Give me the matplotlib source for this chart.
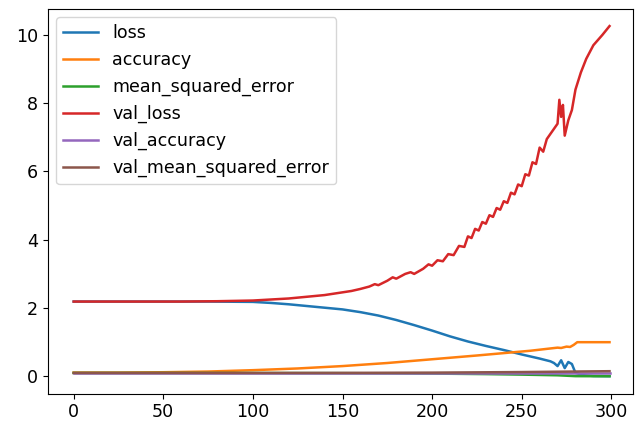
import matplotlib

matplotlib.use("Agg")
import matplotlib.pyplot as plt

# --- valores (epocas, metricas) ---
loss_ep = [0, 25, 50, 75, 100, 110, 120, 130, 140, 150, 160, 170, 180, 190,
           200, 210, 220, 230, 240, 250, 260, 266, 268, 270, 272, 274, 276,
           278, 280, 285, 290, 299]
loss = [2.19, 2.19, 2.19, 2.19, 2.18, 2.15, 2.11, 2.06, 2.01, 1.96, 1.88,
        1.78, 1.65, 1.50, 1.34, 1.17, 1.02, 0.89, 0.77, 0.64, 0.52, 0.44,
        0.39, 0.30, 0.47, 0.24, 0.42, 0.36, 0.10, 0.03, 0.01, 0.005]

acc_ep = [0, 25, 50, 75, 100, 125, 150, 175, 200, 225, 240, 255, 265, 270,
          272, 275, 277, 279, 281, 290, 299]
accuracy = [0.11, 0.11, 0.12, 0.14, 0.18, 0.23, 0.30, 0.39, 0.50, 0.61, 0.68,
            0.75, 0.81, 0.84, 0.83, 0.87, 0.86, 0.92, 1.00, 1.00, 1.00]

mse_ep = [0, 50, 100, 150, 200, 230, 250, 270, 280, 290, 299]
mse = [0.099, 0.099, 0.097, 0.093, 0.080, 0.065, 0.050, 0.030, 0.005, 0.003,
       0.002]

vloss_ep = [0, 20, 40, 60, 80, 100, 110, 120, 130, 140, 150, 155, 160, 165,
            168, 170, 175, 178, 180, 185, 188, 190, 195, 198, 200, 203, 206,
            209, 212, 215, 218, 220, 222, 224, 226, 228, 230, 232, 234, 236,
            238, 240, 242, 244, 246, 248, 250, 252, 254, 256, 258, 260, 262,
            264, 266, 268, 270, 271, 272, 273, 274, 276, 278, 280, 283, 286,
            290, 295, 299]
val_loss = [2.19, 2.19, 2.19, 2.19, 2.20, 2.22, 2.25, 2.28, 2.33, 2.38, 2.46,
            2.50, 2.56, 2.63, 2.70, 2.67, 2.80, 2.90, 2.86, 3.00, 3.05, 3.00,
            3.15, 3.28, 3.24, 3.40, 3.37, 3.58, 3.55, 3.82, 3.79, 4.10, 4.05,
            4.32, 4.27, 4.52, 4.47, 4.72, 4.67, 4.93, 4.88, 5.13, 5.08, 5.38,
            5.33, 5.62, 5.57, 5.92, 5.88, 6.27, 6.22, 6.70, 6.58, 6.95, 7.10,
            7.25, 7.40, 8.10, 7.60, 7.95, 7.05, 7.50, 7.80, 8.40, 8.90, 9.30,
            9.70, 10.00, 10.26]

vacc_ep = [0, 100, 200, 299]
val_accuracy = [0.11, 0.11, 0.11, 0.11]

vmse_ep = [0, 100, 150, 200, 250, 299]
val_mse = [0.099, 0.099, 0.101, 0.108, 0.125, 0.150]

series = [
    ("loss", loss_ep, loss),
    ("accuracy", acc_ep, accuracy),
    ("mean_squared_error", mse_ep, mse),
    ("val_loss", vloss_ep, val_loss),
    ("val_accuracy", vacc_ep, val_accuracy),
    ("val_mean_squared_error", vmse_ep, val_mse),
]

plt.rcParams["font.size"] = 12.6

fig = plt.figure(figsize=(6.36, 4.28), dpi=100)
ax = fig.add_axes([0.075, 0.08, 0.92, 0.9])
for name, ep, vals in series:
    ax.plot(ep, vals, label=name, linewidth=1.8)

ax.set_xlim(-14.5, 312)
ax.set_xticks([0, 50, 100, 150, 200, 250, 300])
ax.set_yticks([0, 2, 4, 6, 8, 10])
ax.legend(loc="upper left")

fig.savefig("out.png", dpi=100)
